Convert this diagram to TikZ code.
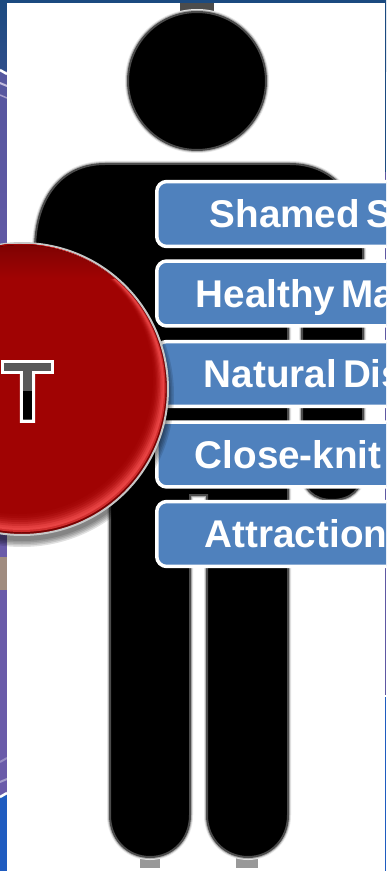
\documentclass[tikz,border=0pt]{standalone}
\usepackage{fontspec}
\setmainfont{Liberation Sans}
\usetikzlibrary{positioning,calc}

\definecolor{boxblue}{HTML}{4F81BD}
\definecolor{discred}{HTML}{A00303}
\definecolor{discrim}{HTML}{E84444}
\definecolor{bandtop}{HTML}{1B4A80}
\definecolor{bandpurple}{HTML}{6A5BA9}
\definecolor{bandblue}{HTML}{1F5CC0}
\definecolor{bandbrown}{HTML}{A08C80}

\begin{document}
\begin{tikzpicture}[
  x=0.02cm, y=-0.02cm,
  box/.style={rectangle, draw=white, line width=0.07cm, fill=boxblue, rounded corners=0.2cm, anchor=west,
    minimum height=1.3cm, minimum width=6.4cm, text width=6.2cm, align=left, inner sep=0pt,
    text height=0.55cm, text depth=0pt, text=white, font=\fontsize{22}{22}\selectfont\bfseries,
    execute at begin node={\spaceskip=0.16em\relax}},
  figpart/.style={fill=black, preaction={draw=black!10, line width=0.12cm},
    preaction={draw=black!30, line width=0.08cm}, draw=black!70, line width=0.04cm},
  letterT/.style={font=\fontsize{45.5}{46}\selectfont, inner sep=0pt, anchor=base},
]
\useasboundingbox (0,0) rectangle (386,871);
\clip (0,0) rectangle (386,871);

% === BACKGROUND BANDS ===
\fill[top color=bandtop, bottom color=bandtop!75!bandpurple] (0,0) rectangle (386,72);
\fill[bandtop] (7,0) rectangle (386,172);
\fill[top color=bandpurple!75!bandtop, bottom color=bandpurple] (0,72) rectangle (7,400);
\fill[bandpurple] (0,400) rectangle (7,795);
\fill[bandpurple!85!bandtop] (380,172) rectangle (386,695);
\fill[bandbrown] (0,557) rectangle (7,590);
\fill[bandblue] (0,795) rectangle (7,871);
\fill[bandblue] (380,697) rectangle (386,871);
\draw[white, line width=0.05cm] (0,70) -- (7,74);
\draw[white!60!bandpurple, line width=0.04cm] (0,83) -- (7,86);
\draw[white!40!bandpurple, line width=0.03cm] (0,95) -- (7,98);
\draw[white!30!bandpurple, line width=0.04cm] (0,762) -- (7,758);
\draw[white!40!bandpurple, line width=0.04cm] (0,782) -- (7,779);
\draw[white, line width=0.05cm] (0,797) -- (7,793);
\draw[white, line width=0.05cm] (380,696) -- (386,696);
\fill[white] (7,3) rectangle (385,871);

% === FIGURE ===
\fill[black!70] (180,3) rectangle (214,20);
\fill[black!40] (140,852) rectangle (160,868);
\fill[black!40] (236,852) rectangle (258,868);
\path[figpart] (197,81) circle (69);
\path[figpart] (35,500) -- (35,250) .. controls (35,200) and (60,164) .. (105,164) -- (290,164)
  .. controls (335,164) and (363,200) .. (363,250) -- (363,470)
  .. controls (363,490) and (350,500) .. (332,500) .. controls (315,500) and (302,490) .. (302,470)
  -- (302,275) -- (288,275) -- (288,815)
  .. controls (288,840) and (270,857) .. (248,857) .. controls (226,857) and (207,840) .. (207,815)
  -- (207,495) -- (190,495) -- (190,815)
  .. controls (190,840) and (172,857) .. (150,857) .. controls (128,857) and (110,840) .. (110,815)
  -- (110,290) -- (92,290) -- (92,500) -- cycle;

% === BOXES ===
\node[box] (shamed) at (155,214) {\hspace*{0.96cm}Shamed S};
\node[box] (healthy) at (155,293.5) {\hspace*{0.68cm}Healthy Ma};
\node[box] (natural) at (155,374) {\hspace*{0.84cm}Natural Dis};
\node[box] (close) at (155,454.5) {\hspace*{0.66cm}Close-knit};
\node[box] (attraction) at (155,534) {\hspace*{0.86cm}Attraction};

% === DISC ===
\foreach \r in {146,147.5,149,150.5,152}
  \fill[black, opacity=0.12] (22,395) circle (\r);
\node[circle, draw=black!22, line width=0.04cm, minimum size=5.84cm, inner sep=0pt, fill=discred!75!black] (disc) at (22,389) {};
\foreach \k/\m in {1/65, 2/100, 3/90, 4/70, 5/50, 6/33, 7/20, 8/10, 9/4, 10/0}
  \fill[discrim!\m!discred] ($(disc.center)+(-0.4*\k,-\k)$) circle (145-\k);
\begin{scope}
  \clip (disc.center) circle (144);
  \fill[top color=discred!78!black, bottom color=discred] (-130,243) rectangle (170,278);
\end{scope}

% === LETTER ===
\node[letterT, text=white] (outline) at (27.5,419)
  {\special{pdf:code q 1 Tr 1 1 1 RG 4.4 w}T\special{pdf:code Q}};
\node[letterT, text=black] (letter) at (27.5,419)
  {\special{pdf:code q 2 Tr 0 0 0 RG 0.8 w}T\special{pdf:code Q}};
\begin{scope}
  \clip (0,340) rectangle (60,390);
  \node[letterT, text=black!65] (lettertop) at (27.5,419)
    {\special{pdf:code q 2 Tr 0.35 0.35 0.35 RG 0.8 w}T\special{pdf:code Q}};
\end{scope}
\end{tikzpicture}
\end{document}
